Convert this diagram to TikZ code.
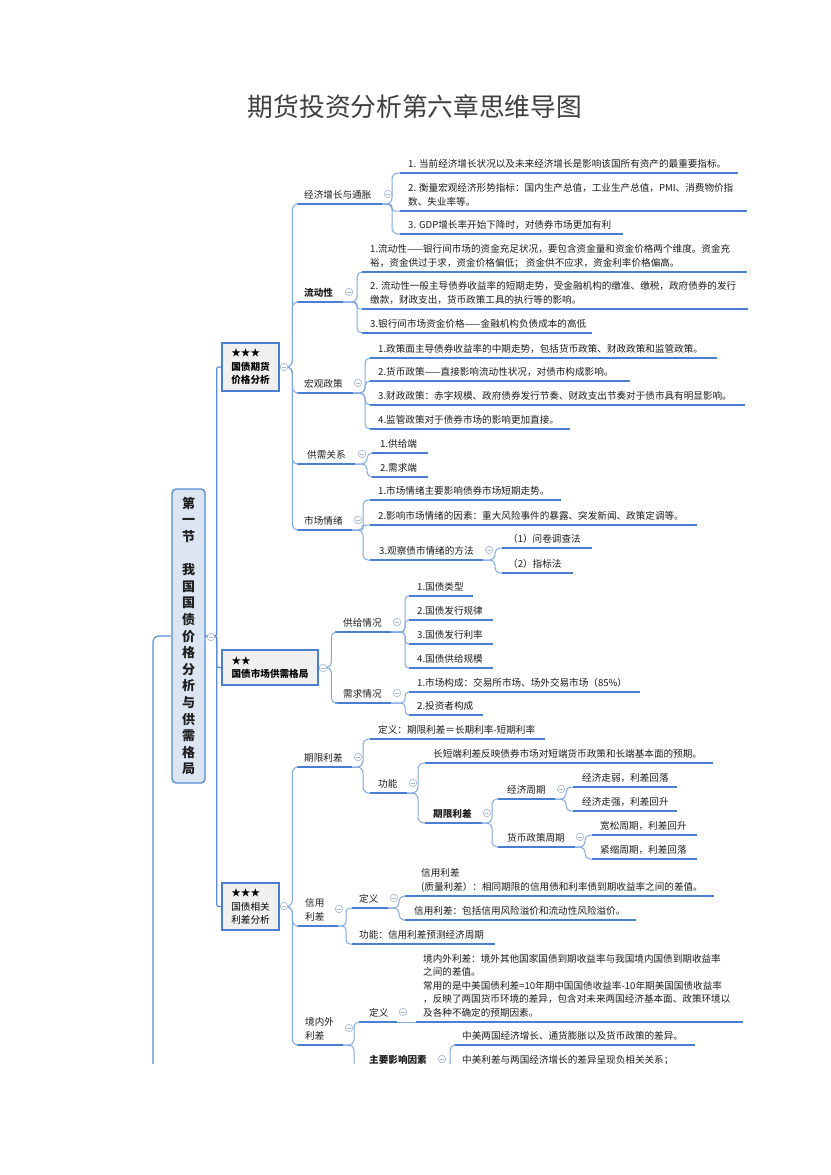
\documentclass[tikz,border=0pt]{standalone}
\usepackage{fontspec}
\setmainfont{Noto Sans CJK SC}
\usetikzlibrary{calc}
\definecolor{uline}{HTML}{4A7ED1}
\definecolor{connc}{HTML}{80A8E6}
\definecolor{rootline}{HTML}{5A8CD7}
\definecolor{boxfill}{HTML}{F0F0F0}
\definecolor{rootfill}{HTML}{DCE6F2}
\definecolor{collc}{HTML}{A8B8D8}
\definecolor{txt}{HTML}{1E1E1E}
\definecolor{titlec}{HTML}{3F3F3F}
\newcommand\mmt[7][]{%
  \node[mmtext,#1] (#2) at (#3,#6-5.8) {#7};
  \coordinate (#2-l) at (#4,#6);
  \coordinate (#2-r) at (#5,#6);
  \draw[uline] (#2-l) -- (#2-r);
}
\newcommand\mml[4][6]{\draw[conn,rounded corners=#1pt] (#2-r) -- ++(#4,0) |- (#3-l);}
\newcommand\mmc[3]{\node[mmcoll] (#1) at (#2,#3) {};}
\begin{document}
\begin{tikzpicture}[x=1pt,y=-1pt,
  mmtext/.style={font=\fontsize{9.6}{13.5}\selectfont, text=txt, inner sep=0pt, align=left, anchor=base west},
  bold/.style={font=\fontsize{9.6}{13.5}\selectfont\bfseries},
  uline/.style={draw=uline, line width=2pt},
  conn/.style={draw=connc, line width=1pt},
  rootconn/.style={draw=rootline, line width=1.2pt},
  mmbox/.style={draw=uline, line width=2.5pt, fill=boxfill, font=\fontsize{9.6}{13.5}\selectfont, align=left, inner sep=0pt, text=black},
  mmroot/.style={draw=rootline, line width=1.4pt, fill=rootfill, rounded corners=4pt, minimum width=33pt, minimum height=294pt, inner sep=0pt, align=center, font=\fontsize{13}{16.6}\selectfont\bfseries, text=txt},
  mmcoll/.style={circle, draw=collc, fill=white, line width=0.7pt, minimum size=7.5pt, inner sep=0pt,
    path picture={\draw[collc,line width=0.7pt] ([xshift=-2.2pt]path picture bounding box.center) -- ([xshift=2.2pt]path picture bounding box.center);}},
  mmtitle/.style={font=\fontsize{25.7}{30}\selectfont, text=titlec, inner sep=0pt}
]
\useasboundingbox (0,0) rectangle (830,1175);
\fill[white] (0,0) rectangle (830,1175);
\node[mmtitle] (title) at (415,107) {期货投资分析第六章思维导图};
\begin{scope}
\clip (0,0) rectangle (830,1063);
% root and boxes
\node[mmroot] (root) at (188.5,636) {第\\一\\节\\[16.6pt]我\\国\\国\\债\\价\\格\\分\\析\\与\\供\\需\\格\\局};
\node[mmbox, font=\fontsize{9.6}{13.5}\selectfont\bfseries, minimum width=57pt, minimum height=48pt] (n1) at (250.5,367) {★★★\\国债期货\\价格分析};
\node[mmbox, font=\fontsize{9.6}{13.5}\selectfont\bfseries, minimum width=96pt, minimum height=35pt] (n2) at (270,667.5) {★★\\国债市场供需格局};
\node[mmbox, minimum width=57pt, minimum height=47pt] (n3) at (250.5,906.5) {★★★\\国债相关\\利差分析};
\coordinate (n1-r) at (n1.east);
\coordinate (n2-r) at (n2.east);
\coordinate (n3-r) at (n3.east);
\coordinate (rootdown) at (153,1120);
\draw[rootconn, rounded corners=6pt] (root.west) -| (rootdown);
\draw[rootconn, rounded corners=2pt] (root.east) -- ++(11,0) |- (n1.west);
\draw[rootconn, rounded corners=2pt] (root.east) -- ++(11,0) |- (n2.west);
\draw[rootconn, rounded corners=2pt] (root.east) -- ++(11,0) |- (n3.west);

% ---------- n1 ----------
\mmt{A1}{304}{297}{382}{204}{经济增长与通胀}
\mmt[bold]{A2}{304}{297}{343}{302}{流动性}
\mmt{A3}{304}{297}{353}{393}{宏观政策}
\mmt{A4}{307}{297}{355}{464}{供需关系}
\mmt{A5}{304}{297}{352}{530}{市场情绪}
\mml{n1}{A1}{12}\mml{n1}{A2}{12}\mml{n1}{A3}{12}\mml{n1}{A4}{12}\mml{n1}{A5}{12}

\mmt{A1a}{408}{400}{738}{173}{1. 当前经济增长状况以及未来经济增长是影响该国所有资产的最重要指标。}
\mmt{A1b}{408}{400}{747}{211}{2. 衡量宏观经济形势指标：国内生产总值，工业生产总值，PMI、消费物价指\\数、失业率等。}
\mmt{A1c}{408}{400}{623}{234}{3. GDP增长率开始下降时，对债券市场更加有利}
\mml{A1}{A1a}{10}\mml[3]{A1}{A1b}{10}\mml{A1}{A1c}{10}

\mmt{A2a}{370}{362}{747}{272}{1.流动性——银行间市场的资金充足状况，要包含资金量和资金价格两个维度。资金充\\裕，资金供过于求，资金价格偏低； 资金供不应求，资金利率价格偏高。}
\mmt{A2b}{370}{362}{748}{309}{2. 流动性一般主导债券收益率的短期走势，受金融机构的缴准、缴税，政府债券的发行\\缴款，财政支出，货币政策工具的执行等的影响。}
\mmt{A2c}{370}{362}{592}{333}{3.银行间市场资金价格——金融机构负债成本的高低}
\mml[5]{A2}{A2a}{14}\mml[3]{A2}{A2b}{14}\mml[5]{A2}{A2c}{14}

\mmt{A3a}{378}{370}{717}{358}{1.政策面主导债券收益率的中期走势，包括货币政策、财政政策和监管政策。}
\mmt{A3b}{378}{370}{630}{381}{2.货币政策——直接影响流动性状况，对债市构成影响。}
\mmt{A3c}{378}{370}{745}{405}{3.财政政策：赤字规模、政府债券发行节奏、财政支出节奏对于债市具有明显影响。}
\mmt{A3d}{378}{370}{570}{429}{4.监管政策对于债券市场的影响更加直接。}
\mml[5]{A3}{A3a}{12}\mml[5]{A3}{A3b}{12}\mml[5]{A3}{A3c}{12}\mml[5]{A3}{A3d}{12}

\mmt{A4a}{380}{372}{428}{453}{1.供给端}
\mmt{A4b}{380}{372}{428}{477}{2.需求端}
\mml[5]{A4}{A4a}{12}\mml[5]{A4}{A4b}{12}

\mmt{A5a}{378}{370}{561}{500}{1.市场情绪主要影响债券市场短期走势。}
\mmt{A5b}{378}{370}{697}{525}{2.影响市场情绪的因素：重大风险事件的暴露、突发新闻、政策定调等。}
\mmt{A5c}{379}{370}{483}{560}{3.观察债市情绪的方法}
\mml[5]{A5}{A5a}{11}\mml[2]{A5}{A5b}{11}\mml[5]{A5}{A5c}{11}
\mmt{A5c1}{508}{502}{592}{548}{（1）问卷调查法}
\mmt{A5c2}{508}{502}{573}{573}{（2）指标法}
\mml[5]{A5c}{A5c1}{12}\mml[5]{A5c}{A5c2}{12}

% ---------- n2 ----------
\mmt{B1}{343}{335}{391}{632}{供给情况}
\mmt{B2}{343}{335}{391}{703}{需求情况}
\mml[5]{n2}{B1}{12}\mml[5]{n2}{B2}{12}
\mmt{B1a}{417}{409}{473}{596}{1.国债类型}
\mmt{B1b}{417}{409}{493}{620}{2.国债发行规律}
\mmt{B1c}{417}{409}{493}{644}{3.国债发行利率}
\mmt{B1d}{417}{409}{493}{668}{4.国债供给规模}
\mml[4]{B1}{B1a}{14}\mml[4]{B1}{B1b}{14}\mml[4]{B1}{B1c}{14}\mml[4]{B1}{B1d}{14}
\mmt{B2a}{417}{409}{640}{692}{1.市场构成：交易所市场、场外交易市场（85\%）}
\mmt{B2b}{417}{409}{483}{715}{2.投资者构成}
\mml[4]{B2}{B2a}{14}\mml[4]{B2}{B2b}{14}

% ---------- n3 ----------
\mmt{C1}{304}{297}{352}{767}{期限利差}
\mmt{C2}{305}{297}{338}{926}{信用\\利差}
\mmt{C3}{305}{297}{343}{1045}{境内外\\利差}
\mml{n3}{C1}{12}\mml{n3}{C2}{12}\mml{n3}{C3}{12}

\mmt{C1a}{378}{370}{545}{739}{定义：期限利差＝长期利率-短期利率}
\mmt{C1b}{378}{370}{407}{793}{功能}
\mml{C1}{C1a}{11}\mml{C1}{C1b}{11}
\mmt{C1b1}{433}{425}{713}{763}{长短端利差反映债券市场对短端货币政策和长端基本面的预期。}
\mmt[bold]{C1b2}{433}{425}{482}{823}{期限利差}
\mml{C1b}{C1b1}{11}\mml{C1b}{C1b2}{11}
\mmt{C1b2a}{507}{498}{555}{799}{经济周期}
\mmt{C1b2b}{507}{498}{575}{847}{货币政策周期}
\mml[5]{C1b2}{C1b2a}{10}\mml[5]{C1b2}{C1b2b}{10}
\mmt{C1b2a1}{582}{573}{677}{787}{经济走弱，利差回落}
\mmt{C1b2a2}{582}{573}{677}{811}{经济走强，利差回升}
\mml[5]{C1b2a}{C1b2a1}{11}\mml[5]{C1b2a}{C1b2a2}{11}
\mmt{C1b2b1}{600}{592}{697}{835}{宽松周期，利差回升}
\mmt{C1b2b2}{600}{592}{697}{859}{紧缩周期，利差回落}
\mml[5]{C1b2b}{C1b2b1}{10}\mml[5]{C1b2b}{C1b2b2}{10}

\mmt{C2a}{359}{352}{388}{908}{定义}
\mmt{C2b}{359}{352}{495}{944}{功能：信用利差预测经济周期}
\mml[4]{C2}{C2a}{8}\mml[4]{C2}{C2b}{8}
\mmt{C2a1}{421}{405}{714}{896}{信用利差\\(质量利差）：相同期限的信用债和利率债到期收益率之间的差值。}
\mmt{C2a2}{414}{405}{636}{920}{信用利差：包括信用风险溢价和流动性风险溢价。}
\mml[5]{C2a}{C2a1}{11}\mml[5]{C2a}{C2a2}{11}

\mmt{C3a}{369}{359}{397}{1022}{定义}
\mmt[bold]{C3b}{369}{359}{436}{1069}{主要影响因素}
\mml[5]{C3}{C3a}{11}\mml[5]{C3}{C3b}{11}
\mmt{C3a1}{423}{416}{743}{1022}{境内外利差：境外其他国家国债到期收益率与我国境内国债到期收益率\\之间的差值。\\常用的是中美国债利差=10年期中国国债收益率-10年期美国国债收益率\\，反映了两国货币环境的差异，包含对未来两国经济基本面、政策环境以\\及各种不确定的预期因素。}
\draw[conn] (C3a-r) -- (C3a1-l);
\mmt{C3b1}{462}{454}{695}{1045}{中美两国经济增长、通货膨胀以及货币政策的差异。}
\mmt{C3b2}{462}{454}{700}{1069}{中美利差与两国经济增长的差异呈现负相关关系；}
\mml[5]{C3b}{C3b1}{14}\mml[5]{C3b}{C3b2}{14}

% collapse circles
\mmc{c-root}{211}{637}
\mmc{c-n1}{284}{367}
\mmc{c-n2}{323}{668}
\mmc{c-n3}{284}{906}
\mmc{c-A1}{388}{194}
\mmc{c-A2}{349}{292}
\mmc{c-A3}{358}{383}
\mmc{c-A4}{362}{454}
\mmc{c-A5}{358}{520}
\mmc{c-A5c}{489}{550}
\mmc{c-B1}{397}{622}
\mmc{c-B2}{397}{693}
\mmc{c-C1}{358}{757}
\mmc{c-C1b}{413}{783}
\mmc{c-C1b2}{487}{813}
\mmc{c-C1b2a}{561}{789}
\mmc{c-C1b2b}{580}{837}
\mmc{c-C2}{339}{909}
\mmc{c-C2a}{394}{898}
\mmc{c-C3}{349}{1028}
\mmc{c-C3a}{403}{1012}
\mmc{c-C3b}{442}{1059}
\end{scope}
\end{tikzpicture}
\end{document}
